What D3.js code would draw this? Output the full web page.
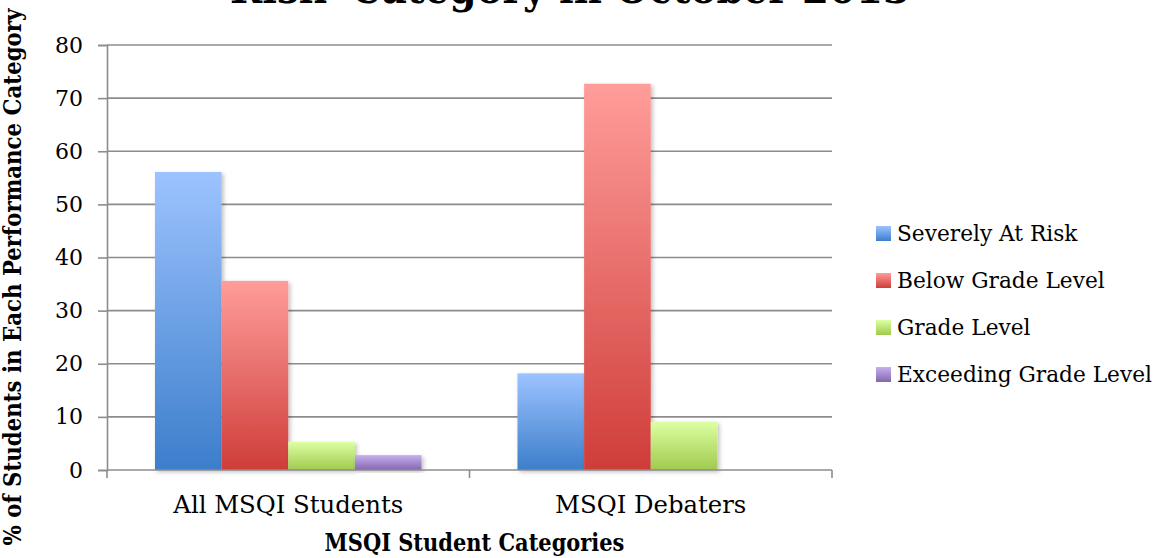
<!DOCTYPE html>
<html><head><meta charset="utf-8">
<script src="https://cdn.jsdelivr.net/npm/d3@7"></script>
<style>body{margin:0;background:#fff;} svg{display:block;font-family:"DejaVu Serif","Liberation Serif",serif;}</style>
</head><body><svg id="c" width="1159" height="558"></svg>
<script>
const categories = ["All MSQI Students", "MSQI Debaters"];
const seriesNames = ["Severely At Risk", "Below Grade Level", "Grade Level", "Exceeding Grade Level"];
const severelyAtRisk = [56.1, 18.2];
const belowGradeLevel = [35.6, 72.7];
const gradeLevel = [5.3, 9.1];
const exceedingGradeLevel = [2.8, 0];
const yTicks = [0, 10, 20, 30, 40, 50, 60, 70, 80];
const title = "Risk' Category in October 2013";
const xTitle = "MSQI Student Categories";
const yTitle = "% of Students in Each Performance Category";

const seriesValues = [severelyAtRisk, belowGradeLevel, gradeLevel, exceedingGradeLevel];
const colors = [["#9DC3FF", "#3C7ECB"], ["#FF9D9A", "#CF3D39"], ["#DDFFA2", "#A0CA4E"], ["#C7B0EC", "#8466B2"]];
const boldFont = "'DejaVu Serif Condensed', 'DejaVu Serif', serif";

const svg = d3.select("#c");
const m = {l:107, r:832, t:45, b:470};
const x0 = d3.scaleBand().domain(categories).range([m.l, m.r]).paddingInner(0).paddingOuter(0);
const x1 = d3.scaleBand().domain(seriesNames).range([0, x0.bandwidth()]).paddingInner(0).paddingOuter(0.72);
const y = d3.scaleLinear().domain([0, 80]).range([m.b, m.t]);

// scale font size of a selection so its widest text has the given width
function fit(sel, target) {
  let w = 0;
  sel.each(function(){ w = Math.max(w, this.getComputedTextLength()); });
  const s = parseFloat(sel.attr("font-size"));
  sel.attr("font-size", (s * target / w).toFixed(2));
}

const defs = svg.append("defs");
colors.forEach((c, i) => {
  const g = defs.append("linearGradient").attr("id", "g" + i).attr("x1", 0).attr("y1", 0).attr("x2", 0).attr("y2", 1);
  g.append("stop").attr("offset", "0%").attr("stop-color", c[0]);
  g.append("stop").attr("offset", "100%").attr("stop-color", c[1]);
});
const f = defs.append("filter").attr("id", "sh").attr("x", "-20%").attr("y", "-20%").attr("width", "140%").attr("height", "140%");
f.append("feDropShadow").attr("dx", 2).attr("dy", 2).attr("stdDeviation", 2).attr("flood-color", "#000").attr("flood-opacity", 0.25);

// gridlines
svg.append("g").selectAll("line").data(yTicks.filter(d => d > 0)).join("line")
  .attr("x1", m.l).attr("x2", m.r).attr("y1", d => y(d)).attr("y2", d => y(d))
  .attr("stroke", "#8c8c8c").attr("stroke-width", 1.6);

// y axis
const yAxis = svg.append("g").attr("transform", `translate(${m.l},0)`)
  .call(d3.axisLeft(y).tickValues(yTicks).tickSize(9).tickPadding(15));
yAxis.select(".domain").attr("stroke", "#8c8c8c").attr("stroke-width", 1.6);
yAxis.selectAll(".tick line").attr("stroke", "#8c8c8c").attr("stroke-width", 1.6);
yAxis.selectAll("text").attr("font-size", 22).attr("fill", "#000").attr("font-family", "DejaVu Serif");

// bars
const grp = svg.append("g").selectAll("g").data(categories).join("g")
  .attr("transform", d => `translate(${x0(d)},0)`);
grp.selectAll("rect").data((d, ci) => seriesNames.map((s, si) => ({s, si, v: seriesValues[si][ci]})).filter(e => e.v > 0))
  .join("rect")
  .attr("x", d => x1(d.s)).attr("width", x1.bandwidth())
  .attr("y", d => y(d.v)).attr("height", d => y(0) - y(d.v))
  .attr("fill", d => `url(#g${d.si})`).attr("filter", "url(#sh)");

// x axis
const xAxis = svg.append("g").attr("transform", `translate(0,${m.b})`);
xAxis.append("line").attr("x1", m.l).attr("x2", m.r).attr("stroke", "#8c8c8c").attr("stroke-width", 1.6);
const xb = [m.l, ...categories.map(c => x0(c) + x0.bandwidth())];
xAxis.selectAll(".tk").data(xb).join("line").attr("x1", d => d).attr("x2", d => d).attr("y1", 0).attr("y2", 8)
  .attr("stroke", "#8c8c8c").attr("stroke-width", 1.6);
const catLabels = xAxis.selectAll("text").data(categories).join("text")
  .attr("x", d => x0(d) + x0.bandwidth() / 2).attr("y", 43).attr("text-anchor", "middle")
  .attr("font-size", 22).text(d => d);
fit(catLabels, 230);

// titles
const t = svg.append("text").attr("x", 570).attr("y", 3).attr("text-anchor", "middle").attr("font-family", boldFont)
  .attr("font-size", 40).attr("font-weight", "bold").text(title);
fit(t, 680);
const xt = svg.append("text").attr("x", (m.l + m.r) / 2 + 5).attr("y", 551).attr("text-anchor", "middle").attr("font-family", boldFont)
  .attr("font-size", 22).attr("font-weight", "bold").text(xTitle);
fit(xt, 300);
const yt = svg.append("text").attr("transform", `translate(21,277) rotate(-90)`).attr("text-anchor", "middle").attr("font-family", boldFont)
  .attr("font-size", 22).attr("font-weight", "bold").text(yTitle);
fit(yt, 537);

// legend
const lg = svg.append("g").selectAll("g").data(seriesNames).join("g")
  .attr("transform", (d, i) => `translate(876,${233 + i * 47})`);
lg.append("rect").attr("x", 0).attr("y", -7).attr("width", 15).attr("height", 15).attr("fill", (d, i) => `url(#g${i})`);
const lt = lg.append("text").attr("x", 21).attr("y", 8).attr("font-size", 22).text(d => d);
fit(lt, 255);
</script></body></html>
